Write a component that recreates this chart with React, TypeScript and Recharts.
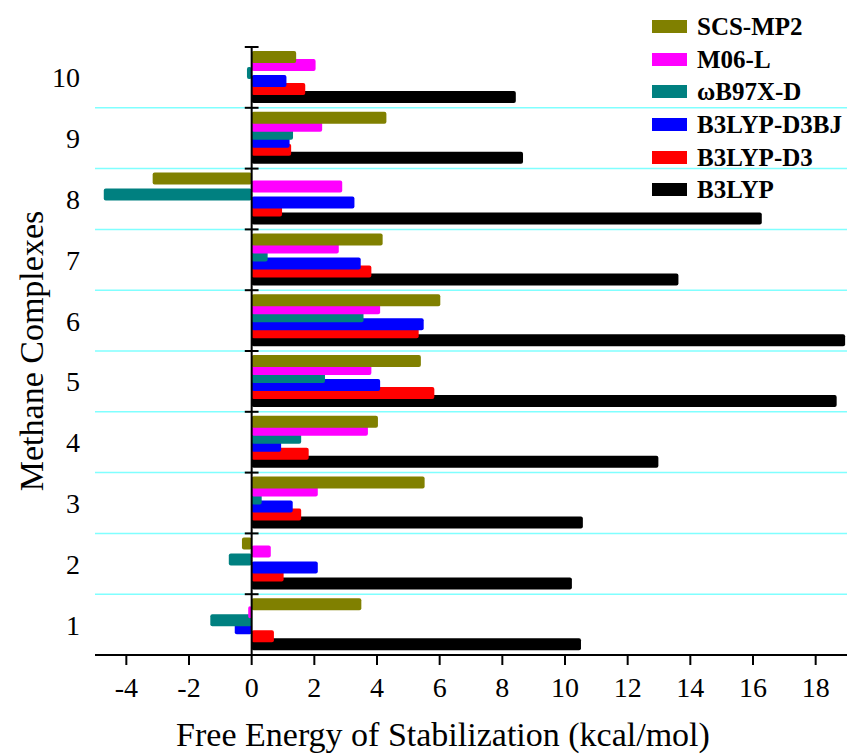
import { BarChart, Bar, XAxis, YAxis, ReferenceLine, Label } from "recharts";

// methane complexes 1..10 (bottom to top)
const complexes = [1, 2, 3, 4, 5, 6, 7, 8, 9, 10];

// free energy of stabilization, kcal/mol
const scsMp2 = [3.5, -0.31, 5.52, 4.03, 5.4, 6.02, 4.18, -3.16, 4.3, 1.42];
const m06l = [-0.11, 0.61, 2.11, 3.71, 3.82, 4.1, 2.78, 2.89, 2.25, 2.04];
const wb97xd = [-1.32, -0.73, 0.32, 1.58, 2.34, 3.57, 0.51, -4.72, 1.32, -0.15];
const b3lypD3bj = [-0.54, 2.11, 1.31, 0.94, 4.1, 5.49, 3.48, 3.28, 1.21, 1.11];
const b3lypD3 = [0.71, 1.02, 1.58, 1.82, 5.83, 5.33, 3.82, 0.97, 1.26, 1.71];
const b3lyp = [10.51, 10.22, 10.57, 12.98, 18.67, 18.94, 13.62, 16.28, 8.66, 8.43];

const seriesNames = ["SCS-MP2", "M06-L", "ωB97X-D", "B3LYP-D3BJ", "B3LYP-D3", "B3LYP"];
const seriesColors = ["#808000", "#ff00ff", "#008080", "#0000ff", "#ff0000", "#000000"];
const seriesValues = [scsMp2, m06l, wb97xd, b3lypD3bj, b3lypD3, b3lyp];

const xTicks = [-4, -2, 0, 2, 4, 6, 8, 10, 12, 14, 16, 18];

const serif = '"Liberation Serif", "Times New Roman", serif';

const data = complexes.map((c, i) => {
  const row: Record<string, number> = { complex: c };
  seriesValues.forEach((vals, k) => {
    row[`s${k}`] = vals[i];
  });
  return row;
});

// band edges between complexes
const edges = complexes.map((c) => c + 0.5);

export default function App() {
  return (
    <div style={{ position: "relative", width: 851, height: 754, fontFamily: serif }}>
      <style>{`body{margin:0}`}</style>
      <BarChart
        width={851}
        height={754}
        data={data}
        layout="vertical"
        margin={{ top: 47, right: 4, bottom: 0, left: 0 }}
        barSize={12}
        barGap={-4}
      >
        <XAxis
          type="number"
          domain={[-5, 19]}
          ticks={xTicks}
          allowDataOverflow
          height={99}
          axisLine={{ stroke: "#000", strokeWidth: 2 }}
          tickLine={{ stroke: "#000", strokeWidth: 2 }}
          tickSize={10}
          tickMargin={12}
          tick={{ fill: "#000", fontSize: 28, fontFamily: serif }}
        >
          <Label
            content={(props: any) => {
              const vb = props.viewBox;
              return (
                <text
                  x={vb.x + vb.width / 2 - 28}
                  y={vb.y + vb.height - 8}
                  textAnchor="middle"
                  fontSize={34}
                  fontFamily={serif}
                  fill="#000"
                >
                  Free Energy of Stabilization (kcal/mol)
                </text>
              );
            }}
          />
        </XAxis>
        <YAxis
          type="number"
          dataKey="complex"
          domain={[0.5, 10.5]}
          ticks={complexes}
          reversed
          interval={0}
          width={95}
          axisLine={false}
          tickLine={false}
          tickSize={0}
          tickMargin={15}
          tick={{ fill: "#000", fontSize: 28, fontFamily: serif }}
        >
          <Label
            content={(props: any) => {
              const vb = props.viewBox;
              const cx = vb.x + 31;
              const cy = vb.y + vb.height / 2;
              return (
                <text
                  x={cx}
                  y={cy}
                  transform={`rotate(-90, ${cx}, ${cy})`}
                  textAnchor="middle"
                  dominantBaseline="central"
                  fontSize={34}
                  fontFamily={serif}
                  fill="#000"
                >
                  Methane Complexes
                </text>
              );
            }}
          />
        </YAxis>
        {edges.slice(0, -1).map((e) => (
          <ReferenceLine key={`g${e}`} y={e} stroke="#80ffff" strokeWidth={1.5} />
        ))}
        {seriesNames.map((name, k) => (
          <Bar
            key={name}
            dataKey={`s${k}`}
            name={name}
            fill={seriesColors[k]}
            radius={2}
            zIndex={310 - k}
            isAnimationActive={false}
          />
        ))}
        <ReferenceLine x={0} stroke="#000" strokeWidth={2} zIndex={600} />
        {edges.map((e) => (
          <ReferenceLine
            key={`t${e}`}
            segment={[
              { x: -0.22, y: e },
              { x: 0.22, y: e },
            ]}
            stroke="#000"
            strokeWidth={2}
            zIndex={600}
          />
        ))}
      </BarChart>
      <div style={{ position: "absolute", left: 652, top: 10 }}>
        {seriesNames.map((name, k) => (
          <div
            key={name}
            style={{ display: "flex", alignItems: "center", height: 32.7 }}
          >
            <span
              style={{
                display: "inline-block",
                width: 35,
                height: 13,
                background: seriesColors[k],
                marginRight: 10,
              }}
            />
            <span style={{ fontSize: 25, fontWeight: "bold", color: "#000", lineHeight: 1 }}>
              {name}
            </span>
          </div>
        ))}
      </div>
    </div>
  );
}
